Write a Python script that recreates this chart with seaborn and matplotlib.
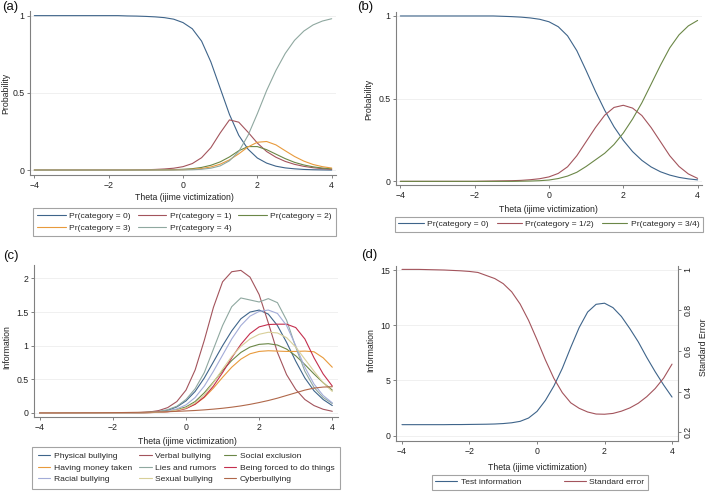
import numpy as np
import pandas as pd
import matplotlib
matplotlib.use("Agg")
import matplotlib.pyplot as plt
from matplotlib.lines import Line2D
import seaborn as sns

# ---- data ----
theta = [-4.0, -3.75, -3.5, -3.25, -3.0, -2.75, -2.5, -2.25, -2.0, -1.75, -1.5,
         -1.25, -1.0, -0.75, -0.5, -0.25, 0.0, 0.25, 0.5, 0.75, 1.0, 1.25, 1.5,
         1.75, 2.0, 2.25, 2.5, 2.75, 3.0, 3.25, 3.5, 3.75, 4.0]

# (a) category probabilities, 5 categories
a_cat0 = [1] * 10 + [0.998, 0.997, 0.995, 0.992, 0.987, 0.977, 0.955, 0.915, 0.835, 0.70, 0.53,
                     0.36, 0.225, 0.135, 0.078, 0.045, 0.025, 0.014, 0.008, 0.004, 0.002, 0.001, 0.0]
a_cat1 = [0] * 11 + [0.001, 0.002, 0.004, 0.007, 0.012, 0.022, 0.042, 0.08, 0.145, 0.24, 0.325,
                     0.31, 0.245, 0.175, 0.12, 0.083, 0.056, 0.037, 0.024, 0.015, 0.009, 0.005]
a_cat2 = [0] * 13 + [0.001, 0.002, 0.003, 0.005, 0.009, 0.017, 0.031, 0.053, 0.085, 0.125, 0.152,
                     0.152, 0.132, 0.103, 0.074, 0.05, 0.033, 0.021, 0.013, 0.008]
a_cat3 = [0] * 15 + [0.001, 0.002, 0.005, 0.01, 0.02, 0.038, 0.066, 0.105, 0.15, 0.18, 0.185,
                     0.163, 0.125, 0.088, 0.058, 0.036, 0.022, 0.013]
a_cat4 = [0] * 16 + [0.001, 0.002, 0.005, 0.012, 0.027, 0.06, 0.12, 0.225, 0.365, 0.515, 0.645,
                     0.755, 0.84, 0.9, 0.94, 0.965, 0.98]
a_labels = ["Pr(category = 0)", "Pr(category = 1)", "Pr(category = 2)",
            "Pr(category = 3)", "Pr(category = 4)"]

# (b) collapsed categories
b_cat0 = [1] * 11 + [0.998, 0.996, 0.993, 0.988, 0.98, 0.965, 0.935, 0.88, 0.79, 0.67, 0.545,
                     0.43, 0.33, 0.248, 0.18, 0.127, 0.087, 0.058, 0.038, 0.024, 0.015, 0.009]
b_cat12 = [0] * 9 + [0.001, 0.002, 0.003, 0.004, 0.006, 0.01, 0.016, 0.027, 0.048, 0.088, 0.155,
                     0.24, 0.325, 0.4, 0.447, 0.46, 0.443, 0.398, 0.325, 0.24, 0.155, 0.09, 0.045,
                     0.018]
b_cat34 = [0] * 13 + [0.001, 0.002, 0.004, 0.008, 0.017, 0.032, 0.055, 0.09, 0.13, 0.17, 0.223,
                      0.292, 0.377, 0.475, 0.588, 0.702, 0.807, 0.886, 0.94, 0.973]
b_labels = ["Pr(category = 0)", "Pr(category = 1/2)", "Pr(category = 3/4)"]

# (c) item information
physical = [0] * 10 + [0.002, 0.004, 0.008, 0.018, 0.04, 0.09, 0.18, 0.32, 0.52, 0.76, 1.0, 1.22,
                       1.4, 1.5, 1.53, 1.47, 1.3, 1.05, 0.77, 0.52, 0.33, 0.2, 0.11]
verbal = [0] * 10 + [0.003, 0.007, 0.015, 0.035, 0.08, 0.17, 0.34, 0.64, 1.08, 1.57, 1.95, 2.1,
                     2.12, 2.02, 1.76, 1.34, 0.9, 0.57, 0.35, 0.2, 0.11, 0.055, 0.025]
social = [0] * 10 + [0.002, 0.004, 0.008, 0.015, 0.03, 0.05, 0.09, 0.17, 0.3, 0.46, 0.63, 0.78,
                     0.9, 0.98, 1.02, 1.03, 1.01, 0.95, 0.85, 0.72, 0.58, 0.45, 0.34]
money = [0] * 10 + [0.001, 0.003, 0.006, 0.012, 0.022, 0.04, 0.07, 0.13, 0.23, 0.37, 0.53, 0.68,
                    0.8, 0.88, 0.915, 0.925, 0.92, 0.915, 0.915, 0.92, 0.91, 0.82, 0.68]
lies = [0] * 10 + [0.002, 0.005, 0.01, 0.022, 0.05, 0.1, 0.2, 0.36, 0.6, 0.95, 1.3, 1.58,
                   1.71, 1.68, 1.65, 1.7, 1.64, 1.38, 0.98, 0.62, 0.38, 0.23, 0.14]
forced = [0] * 10 + [0.001, 0.002, 0.005, 0.01, 0.018, 0.035, 0.065, 0.13, 0.24, 0.4, 0.6, 0.82,
                     1.02, 1.18, 1.28, 1.315, 1.32, 1.32, 1.27, 1.1, 0.82, 0.58, 0.4]
racial = [0] * 10 + [0.001, 0.003, 0.006, 0.013, 0.028, 0.06, 0.12, 0.23, 0.4, 0.62, 0.86, 1.1,
                     1.3, 1.44, 1.51, 1.53, 1.48, 1.3, 1.0, 0.68, 0.43, 0.26, 0.15]
sexual = [0] * 10 + [0.001, 0.002, 0.005, 0.01, 0.02, 0.04, 0.075, 0.15, 0.27, 0.45, 0.65, 0.84,
                     0.99, 1.1, 1.17, 1.2, 1.19, 1.12, 0.98, 0.8, 0.62, 0.45, 0.32]
cyber = [0.001, 0.001, 0.001, 0.002, 0.002, 0.003, 0.003, 0.004, 0.005, 0.006, 0.008, 0.01,
         0.012, 0.015, 0.019, 0.024, 0.03, 0.037, 0.046, 0.057, 0.07, 0.086, 0.105, 0.128,
         0.155, 0.185, 0.22, 0.26, 0.3, 0.34, 0.37, 0.385, 0.39]
c_labels = ["Physical bullying", "Verbal bullying", "Social exclusion",
            "Having money taken", "Lies and rumors", "Being forced to do things",
            "Racial bullying", "Sexual bullying", "Cyberbullying"]

# (d) test information and standard error
test_info = [1.0, 1.0, 1.0, 1.0, 1.0, 1.0, 1.01, 1.01, 1.02, 1.03, 1.04, 1.06, 1.1, 1.17, 1.3,
             1.6, 2.2, 3.2, 4.5, 6.1, 8.0, 9.8, 11.2, 11.9, 12.0, 11.6, 10.8, 9.7, 8.5, 7.1,
             5.8, 4.6, 3.5]
std_err = [1.0, 1.0, 1.0, 0.999, 0.998, 0.997, 0.995, 0.993, 0.99, 0.985, 0.97, 0.955, 0.93,
           0.89, 0.83, 0.75, 0.655, 0.555, 0.465, 0.395, 0.345, 0.318, 0.3, 0.29, 0.289, 0.293,
           0.304, 0.32, 0.343, 0.375, 0.415, 0.466, 0.535]
d_labels = ["Test information", "Standard error"]

# stata s2color-ish palette (a bit washed out like the scan)
navy = "#3e648a"
maroon = "#a3545c"
green = "#6b8747"
orange = "#e89a3c"
teal = "#8fa8a0"
cranberry = "#c42f4e"
lavender = "#a3acd8"
khaki = "#d8cf98"
sienna = "#b0684a"

# ---- figure ----
sns.set_theme(style="white")
plt.rcParams["font.family"] = ["Liberation Sans", "DejaVu Sans"]
plt.rcParams["axes.unicode_minus"] = True

W, H = 709, 492
fs = 6.3
lw = 0.8
fig = plt.figure(figsize=(W / 100, H / 100), dpi=100)


def px_axes(l, t, r, b):
    # axes box given in pixel coords of the image
    return fig.add_axes([l / W, 1 - b / H, (r - l) / W, (b - t) / H])


def style(ax, yticks, ylabels):
    ax.set_xticks([-4, -2, 0, 2, 4])
    ax.set_yticks(yticks)
    ax.set_yticklabels(ylabels)
    for s in ["top", "right"]:
        ax.spines[s].set_visible(False)
    for s in ["left", "bottom"]:
        ax.spines[s].set_color("#808080")
        ax.spines[s].set_linewidth(0.8)
    ax.tick_params(axis="both", direction="out", length=2.5, width=0.7, color="#808080",
                   labelsize=fs, labelcolor="#222222", pad=1.5, left=True, bottom=True)
    ax.grid(axis="y", color="#eeeeee", linewidth=0.6)
    ax.grid(axis="x", visible=False)
    ax.set_xlabel("")
    ax.set_ylabel("")


def draw(ax, series, labels, colors):
    df = pd.DataFrame({
        "theta": theta * len(series),
        "value": sum([list(s) for s in series], []),
        "curve": sum([[lab] * len(theta) for lab in labels], []),
    })
    sns.lineplot(data=df, x="theta", y="value", hue="curve", hue_order=labels,
                 palette=dict(zip(labels, colors)), linewidth=lw, legend=False, ax=ax)


def legend(labels, colors, order, box, ncol, hlen, lsp=0.25, bpad=0.3):
    l, t, r, b = box
    handles = [Line2D([], [], color=colors[i], lw=lw) for i in order]
    labs = [labels[i] for i in order]
    leg = fig.legend(handles, labs, loc="upper left", ncol=ncol, mode="expand",
                     bbox_to_anchor=(l / W, 1 - t / H, (r - l) / W, 0),
                     frameon=True, fancybox=False, fontsize=6.1, handlelength=hlen,
                     handletextpad=0.4, columnspacing=0.3, labelspacing=lsp,
                     borderpad=bpad, borderaxespad=0)
    leg.get_frame().set_edgecolor("#8c8c8c")
    leg.get_frame().set_linewidth(0.8)


def ftext(x, y, s, **kw):
    fig.text(x / W, 1 - y / H, s, ha="center", va="center", fontsize=fs, color="#222222", **kw)


# ----- (a) -----
ax_a = px_axes(30, 11, 336, 175)
cols_a = [navy, maroon, green, orange, teal]
draw(ax_a, [a_cat0, a_cat1, a_cat2, a_cat3, a_cat4], a_labels, cols_a)
ax_a.set_xlim(-4.116, 4.116)
ax_a.set_ylim(-0.032, 1.03)
style(ax_a, [0, 0.5, 1], ["0", "0.5", "1"])
ftext(6, 93, "Probability", rotation=90)
ftext(184, 198, "Theta (ijime victimization)")
legend(a_labels, cols_a, [0, 3, 1, 4, 2], (33, 208, 336, 236), 3, 3.4, lsp=0.45, bpad=0.5)
fig.text(2 / W, 1 - 1 / H, "(a)", ha="left", va="top", fontsize=9.5, color="#111111")

# ----- (b) -----
ax_b = px_axes(396, 12, 702, 185)
cols_b = [navy, maroon, green]
draw(ax_b, [b_cat0, b_cat12, b_cat34], b_labels, cols_b)
ax_b.set_xlim(-4.116, 4.118)
ax_b.set_ylim(-0.022, 1.024)
style(ax_b, [0, 0.5, 1], ["0", "0.5", "1"])
ftext(369, 99, "Probability", rotation=90)
ftext(548, 209, "Theta (ijime victimization)")
legend(b_labels, cols_b, [0, 1, 2], (395, 217, 703, 240), 3, 3.0, bpad=0.4)
fig.text(357 / W, 1 - 1 / H, "(b)", ha="left", va="top", fontsize=9.5, color="#111111")

# ----- (c) -----
ax_c = px_axes(34, 265, 338, 417)
cols_c = [navy, maroon, green, orange, teal, cranberry, lavender, khaki, sienna]
draw(ax_c, [physical, verbal, social, money, lies, forced, racial, sexual, cyber], c_labels, cols_c)
ax_c.set_xlim(-4.156, 4.156)
ax_c.set_ylim(-0.06, 2.2)
style(ax_c, [0, 0.5, 1, 1.5, 2], ["0", "0.5", "1", "1.5", "2"])
ftext(7, 347, "Information", rotation=90)
ftext(187, 442, "Theta (ijime victimization)")
legend(c_labels, cols_c, [0, 3, 6, 1, 4, 7, 2, 5, 8], (32, 447, 340, 490), 3, 1.5,
       lsp=0.4, bpad=0.65)
fig.text(3 / W, 1 - 250 / H, "(c)", ha="left", va="top", fontsize=9.5, color="#111111")

# ----- (d) -----
ax_d = px_axes(396, 266, 678, 441)
draw(ax_d, [test_info], d_labels[:1], [navy])
ax_d.set_xlim(-4.177, 4.177)
ax_d.set_ylim(-0.48, 15.37)
style(ax_d, [0, 5, 10, 15], ["0", "5", "10", "15"])
ax_d2 = ax_d.twinx()
draw(ax_d2, [std_err], d_labels[1:], [maroon])
ax_d2.set_ylim(0.1576, 1.0167)
ax_d2.set_yticks([0.2, 0.4, 0.6, 0.8, 1])
ax_d2.set_yticklabels(["0.2", "0.4", "0.6", "0.8", "1"])
for s in ["top", "left", "bottom"]:
    ax_d2.spines[s].set_visible(False)
ax_d2.spines["right"].set_color("#808080")
ax_d2.spines["right"].set_linewidth(0.8)
ax_d2.tick_params(axis="y", direction="out", length=2.5, width=0.7, color="#808080",
                  labelsize=fs, labelcolor="#222222", pad=1.5, right=True)
for lab in ax_d2.get_yticklabels():
    lab.set_rotation(90)
    lab.set_va("center")
ax_d2.grid(False)
ax_d2.set_xlabel("")
ax_d2.set_ylabel("")
ftext(371, 350, "Information", rotation=90)
ftext(703, 347, "Standard Error", rotation=90)
ftext(537, 467, "Theta (ijime victimization)")
legend(d_labels, [navy, maroon], [0, 1], (432, 475, 648, 491), 2, 2.6, bpad=0.4)
fig.text(361 / W, 1 - 249 / H, "(d)", ha="left", va="top", fontsize=9.5, color="#111111")

fig.savefig("out.png", dpi=100, facecolor="white")
